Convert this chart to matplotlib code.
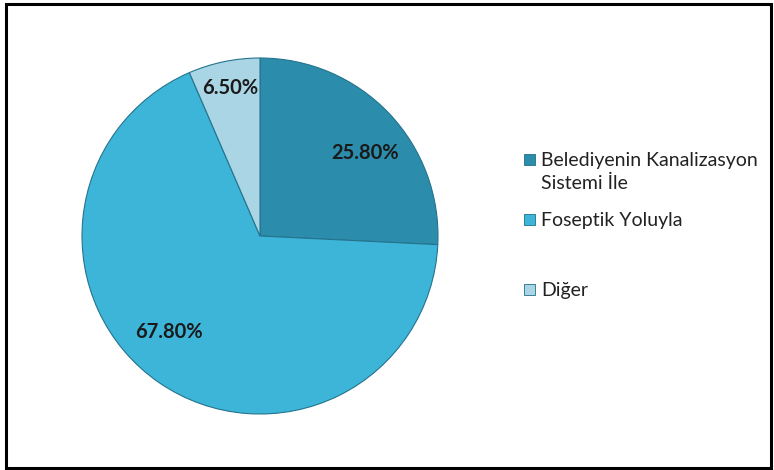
import matplotlib.pyplot as plt
from matplotlib.patches import Rectangle

categories = ["Belediyenin Kanalizasyon\nSistemi İle", "Foseptik Yoluyla", "Diğer"]
values = [25.8, 67.8, 6.5]
value_labels = ["25.80%", "67.80%", "6.50%"]
colors = ["#2b8cab", "#3db5d9", "#a9d5e5"]

W, H = 774, 470
fig = plt.figure(figsize=(W / 100, H / 100), dpi=100)
plt.rcParams["font.family"] = ["Lato", "DejaVu Sans"]

# outer frame
fig.patches.append(Rectangle((6 / W, 2 / H), 765 / W, 464 / H, transform=fig.transFigure,
                             fill=False, edgecolor="black", linewidth=2.2))

cx, cy, r = 260, 236, 178
ax = fig.add_axes([(cx - r) / W, (H - cy - r) / H, 2 * r / W, 2 * r / H])
wedges, _ = ax.pie(values, colors=colors, startangle=90, counterclock=False,
                   wedgeprops=dict(edgecolor="#25738d", linewidth=0.8))
ax.set_xlim(-1, 1)
ax.set_ylim(-1, 1)
ax.set_aspect("equal")

label_pos = [(365, 153), (169, 332), (230, 88)]
for (px, py), text in zip(label_pos, value_labels):
    ax.text((px - cx) / r, (cy - py) / r, text, ha="center", va="center",
            fontsize=14.5, fontweight="bold", color="#1a1a1a")

# legend
legend_y = [160, 220, 290]
for y, name, col in zip(legend_y, categories, colors):
    fig.patches.append(Rectangle((524 / W, 1 - (y + 5) / H), 11 / W, 11 / H,
                                 transform=fig.transFigure, facecolor=col,
                                 edgecolor="#1f6f88", linewidth=0.6))
    fig.text(541 / W, 1 - (y - 8) / H, name, ha="left", va="top", fontsize=14,
             color="#222222", linespacing=1.38)

fig.savefig("out.png", dpi=100)
